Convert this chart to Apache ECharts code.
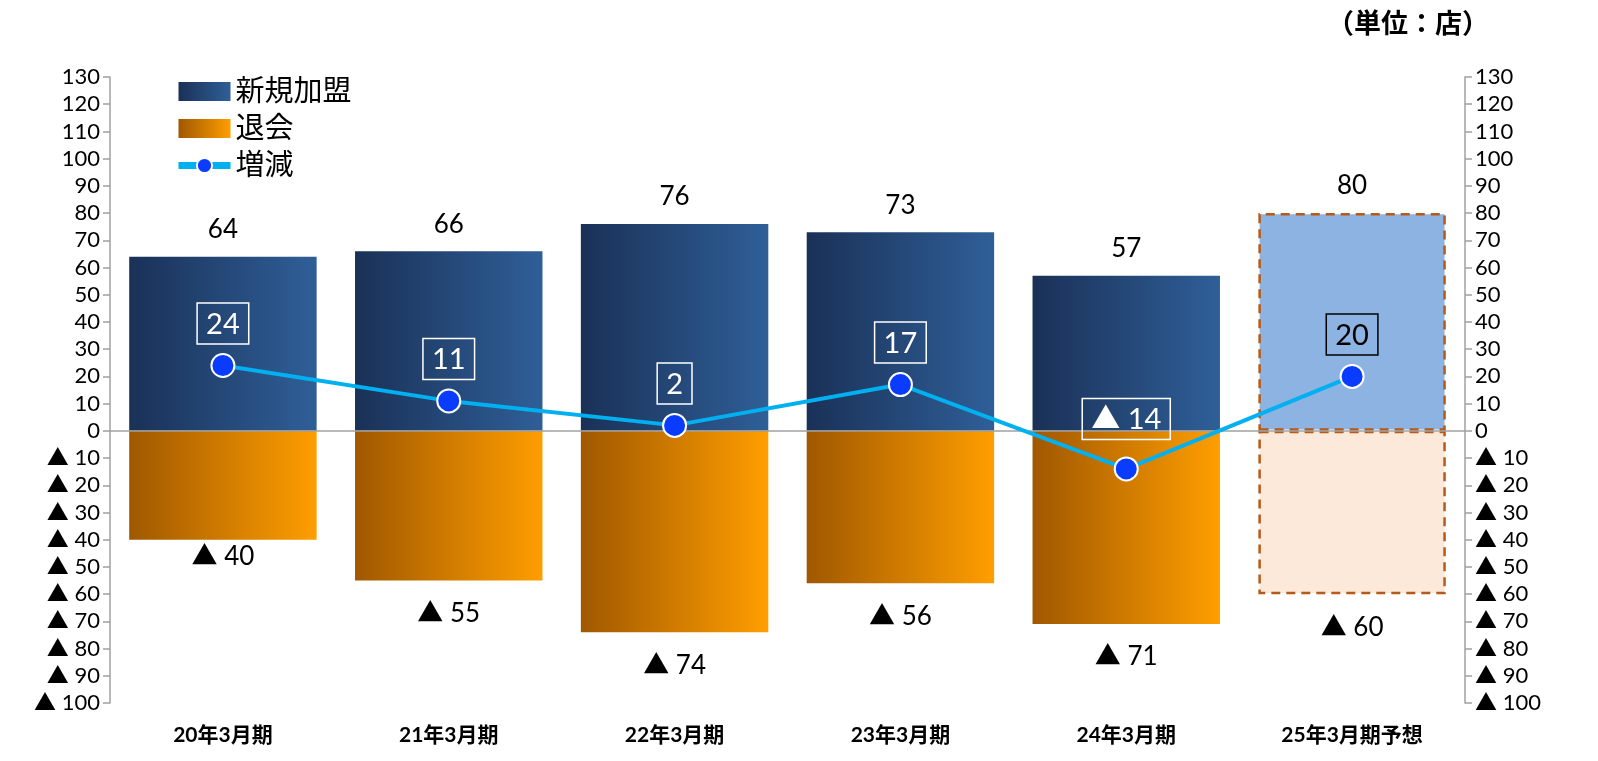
<!DOCTYPE html>
<html><head><meta charset="utf-8">
<script src="https://cdn.jsdelivr.net/npm/echarts@6/dist/echarts.min.js"></script>
<style>html,body{margin:0;padding:0;background:#fff}#c{width:1598px;height:761px}</style>
</head><body><div id="c"></div>
<script>
const categories = ['20年3月期','21年3月期','22年3月期','23年3月期','24年3月期','25年3月期予想'];
const newJoins = [64, 66, 76, 73, 57, 80];
const exits = [-40, -55, -74, -56, -71, -60];
const netChange = [24, 11, 2, 17, -14, 20];
const yMin = -100, yMax = 130, yStep = 10;

const FONT = "Lato, 'Noto Sans CJK JP', sans-serif";
const blueGrad = new echarts.graphic.LinearGradient(0,0,1,0,[{offset:0,color:'#1a3157'},{offset:1,color:'#2f5f98'}]);
const orangeGrad = new echarts.graphic.LinearGradient(0,0,1,0,[{offset:0,color:'#a05800'},{offset:1,color:'#ff9e00'}]);
const fmtTri = v => v < 0 ? '▲ ' + (-v) : String(v);
const last = categories.length - 1;

const chart = echarts.init(document.getElementById('c'));
const yAxisCommon = {
  type:'value', min:yMin, max:yMax, interval:yStep,
  splitLine:{show:false},
  axisLine:{show:true, lineStyle:{color:'#a0a0a0', width:1.5}},
  axisTick:{show:true, length:7, lineStyle:{color:'#a0a0a0', width:1.5}},
  axisLabel:{formatter:fmtTri, color:'#000', fontSize:22, fontFamily:FONT, margin:10}
};
chart.setOption({
  animation:false,
  textStyle:{fontFamily:FONT},
  title:{text:'（単位：店）', right:104, top:6, textStyle:{fontSize:27, fontWeight:'bold', color:'#000', fontFamily:FONT}},
  legend:{
    orient:'vertical', left:170, top:72, itemGap:8, itemWidth:52, itemHeight:19,
    textStyle:{fontSize:29, color:'#000', fontFamily:FONT},
    data:[{name:'新規加盟', icon:'rect'},{name:'退会', icon:'rect'},
          {name:'増減', lineStyle:{width:7}}]
  },
  grid:{left:110, right:133, top:77, bottom:58},
  xAxis:{type:'category', data:categories,
    axisLine:{show:false, onZero:false}, axisTick:{show:false},
    axisLabel:{fontSize:21, fontWeight:'bold', color:'#000', margin:22, fontFamily:FONT}},
  yAxis:[Object.assign({position:'left'}, yAxisCommon), Object.assign({position:'right'}, yAxisCommon)],
  series:[
    {name:'新規加盟', type:'bar', barWidth:'83%', barGap:'-100%', itemStyle:{color:blueGrad},
     label:{show:true, position:'top', distance:14, fontSize:26, color:'#000', fontFamily:FONT},
     data:newJoins.map((v,i)=> i===last ? {value:v, itemStyle:{color:'#8db3e2', borderColor:'#b55a18', borderWidth:2.5, borderType:[9,6]}} : v)},
    {name:'退会', type:'bar', barWidth:'83%', barGap:'-100%', itemStyle:{color:orangeGrad},
     label:{show:true, position:'bottom', distance:20, fontSize:26, color:'#000', fontFamily:FONT, formatter:p=>fmtTri(p.value)},
     data:exits.map((v,i)=> i===last ? {value:v, itemStyle:{color:'#fde9d9', borderColor:'#b55a18', borderWidth:2.5, borderType:[9,6]}} :
        (i===0 ? {value:v, label:{distance:4}} : v)),
     markLine:{silent:true, symbol:'none', label:{show:false}, lineStyle:{color:'#a0a0a0', width:1.5, type:'solid'}, data:[{yAxis:0}]}},
    {name:'増減', type:'line', z:5, symbol:'circle', symbolSize:23,
     lineStyle:{color:'#00b0f0', width:4}, itemStyle:{color:'#0a3cff', borderColor:'#fff', borderWidth:2},
     label:{show:true, position:'top', distance:9, fontSize:29, color:'#fff', fontFamily:FONT,
       borderColor:'#fff', borderWidth:1.5, padding:[7,9,5,9], formatter:p=>fmtTri(p.value)},
     data:netChange.map((v,i)=> i===last ? {value:v, label:{color:'#000', borderColor:'#000'}} :
        (v<0 ? {value:v, label:{distance:17}} : v))}
  ]
});
</script></body></html>
